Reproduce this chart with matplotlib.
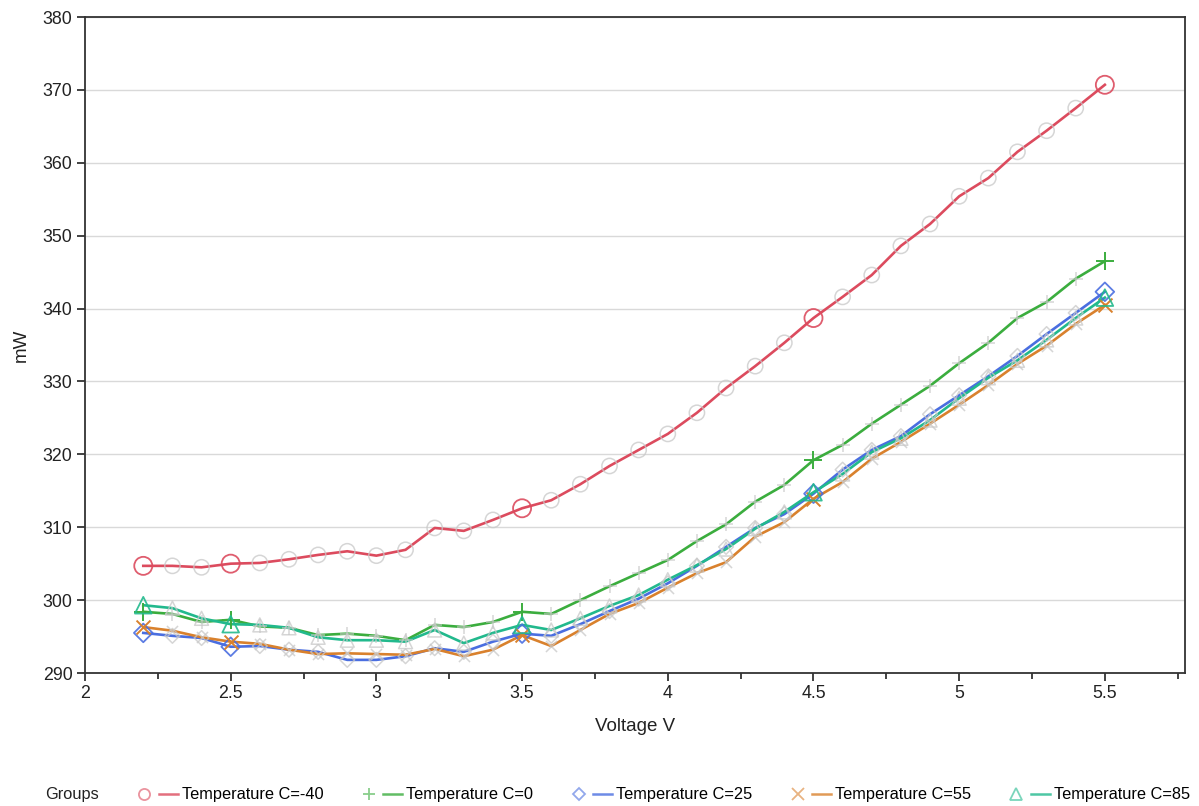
import matplotlib
matplotlib.use("Agg")
import matplotlib.pyplot as plt
from matplotlib.lines import Line2D
from matplotlib.legend_handler import HandlerTuple
from matplotlib.ticker import MultipleLocator

plt.rcParams['font.family'] = ['Liberation Sans', 'DejaVu Sans']

voltage = [round(2.2 + 0.1 * i, 1) for i in range(34)]

temp_m40 = [304.7, 304.7, 304.5, 305.0, 305.1, 305.6, 306.2, 306.7, 306.1, 306.9,
            309.9, 309.5, 311.0, 312.6, 313.7, 315.9, 318.4, 320.6, 322.8, 325.7,
            329.1, 332.1, 335.3, 338.7, 341.6, 344.6, 348.6, 351.6, 355.4, 357.9,
            361.5, 364.4, 367.5, 370.7]
temp_0 = [298.4, 298.1, 297.0, 297.3, 296.4, 296.2, 295.2, 295.4, 295.1, 294.5,
          296.6, 296.3, 297.0, 298.4, 298.1, 300.0, 301.9, 303.7, 305.5, 308.1,
          310.4, 313.5, 315.8, 319.2, 321.3, 324.2, 326.8, 329.4, 332.5, 335.3,
          338.7, 340.9, 344.1, 346.5]
temp_25 = [295.5, 295.1, 294.8, 293.6, 293.7, 293.2, 292.9, 291.8, 291.8, 292.3,
           293.4, 292.9, 294.3, 295.4, 295.1, 296.7, 298.5, 300.2, 302.3, 304.7,
           307.3, 309.9, 311.8, 314.6, 317.9, 320.6, 322.5, 325.5, 328.1, 330.7,
           333.5, 336.5, 339.4, 342.3]
temp_55 = [296.3, 295.8, 294.9, 294.3, 294.0, 293.2, 292.6, 292.7, 292.6, 292.5,
           293.3, 292.3, 293.2, 295.2, 293.7, 295.9, 298.1, 299.6, 301.7, 303.7,
           305.2, 308.7, 310.7, 313.9, 316.2, 319.4, 321.7, 324.2, 326.8, 329.5,
           332.4, 334.9, 337.9, 340.5]
temp_85 = [299.3, 298.9, 297.5, 296.7, 296.6, 296.2, 294.9, 294.5, 294.5, 294.3,
           295.9, 294.1, 295.5, 296.6, 295.9, 297.5, 299.2, 300.7, 302.8, 304.8,
           307.0, 309.8, 312.1, 314.8, 317.3, 320.3, 322.2, 324.7, 327.7, 330.5,
           332.9, 335.7, 338.7, 341.5]

labels = ["Temperature C=-40", "Temperature C=0", "Temperature C=25",
          "Temperature C=55", "Temperature C=85"]
series = [temp_m40, temp_0, temp_25, temp_55, temp_85]
colors = ["#dc4b5e", "#3bad3e", "#4a6ee0", "#d9812d", "#22b98d"]
markers = ["o", "+", "D", "x", "^"]
gray_ms = [11, 10, 7.5, 8, 10]
big_ms = [13, 13, 9.5, 10, 12]
highlight_x = [2.2, 2.5, 3.5, 4.5, 5.5]

fig = plt.figure(figsize=(11.99, 8.06), dpi=100)
ax = fig.add_axes([85 / 1199, 1 - 673 / 806, 1100 / 1199, 656 / 806])

for ys, c, m, gs, bs in zip(series, colors, markers, gray_ms, big_ms):
    ax.plot(voltage, ys, color=c, lw=1.9, zorder=3)
    gx = [x for x in voltage if x not in highlight_x]
    gy = [y for x, y in zip(voltage, ys) if x not in highlight_x]
    hx = [x for x in voltage if x in highlight_x]
    hy = [y for x, y in zip(voltage, ys) if x in highlight_x]
    if m in ('+', 'x'):
        ax.scatter(gx, gy, marker=m, s=gs ** 2, c='#c8c8c8', linewidths=1.1,
                   alpha=0.75, zorder=4)
        ax.scatter(hx, hy, marker=m, s=bs ** 2, c=c, linewidths=1.4, zorder=5)
    else:
        ax.scatter(gx, gy, marker=m, s=gs ** 2, facecolors='none',
                   edgecolors='#c8c8c8', linewidths=1.1, alpha=0.75, zorder=4)
        ax.scatter(hx, hy, marker=m, s=bs ** 2, facecolors='none',
                   edgecolors=c, linewidths=1.3, alpha=0.9, zorder=5)

ax.set_xlim(2, 5.775)
ax.set_ylim(290, 380)
ax.xaxis.set_minor_locator(MultipleLocator(0.25))
ax.yaxis.set_major_locator(MultipleLocator(10))
ax.set_xticks([2, 2.5, 3, 3.5, 4, 4.5, 5, 5.5])
ax.set_xticklabels(["2", "2.5", "3", "3.5", "4", "4.5", "5", "5.5"])
ax.grid(axis='y', color='#d9d9d9', lw=1)
ax.set_axisbelow(True)
ax.tick_params(which='major', direction='out', length=6, width=1.3,
               color='#333333', labelsize=12.8, labelcolor='#222222', pad=3)
ax.tick_params(which='minor', axis='x', direction='out', length=4, width=1.3,
               color='#333333')
for sp in ax.spines.values():
    sp.set_color('#333333')
    sp.set_linewidth(1.3)
ax.set_xlabel("Voltage V", fontsize=13.5, color='#222222', labelpad=11)
ax.set_ylabel("mW", fontsize=13.5, color='#222222', labelpad=9)


def light(c):
    r, g, b = matplotlib.colors.to_rgb(c)
    return (1 - 0.6 * (1 - r), 1 - 0.6 * (1 - g), 1 - 0.6 * (1 - b))


handles = []
for c, m in zip(colors, markers):
    mk = Line2D([], [], marker=m, ls='none', ms=8 if m != 'D' else 6,
                markerfacecolor='none' if m not in ('+', 'x') else light(c),
                markeredgecolor=light(c), mew=1.3)
    ln = Line2D([], [], color=c, lw=1.8, alpha=0.8)
    handles.append((mk, ln))

fig.text(45 / 1199, 1 - 795 / 806, "Groups", fontsize=11.8, color='#222222',
         va='center', ha='left')
fig.legend(handles, labels, handler_map={tuple: HandlerTuple(ndivide=None, pad=0.3)},
           loc='center left', bbox_to_anchor=(135 / 1199, 1 - 795 / 806),
           ncol=5, frameon=False, fontsize=11.8, handlelength=2.6,
           handletextpad=0.25, columnspacing=2.2, borderpad=0, borderaxespad=0)

fig.savefig("out.png", dpi=100)
